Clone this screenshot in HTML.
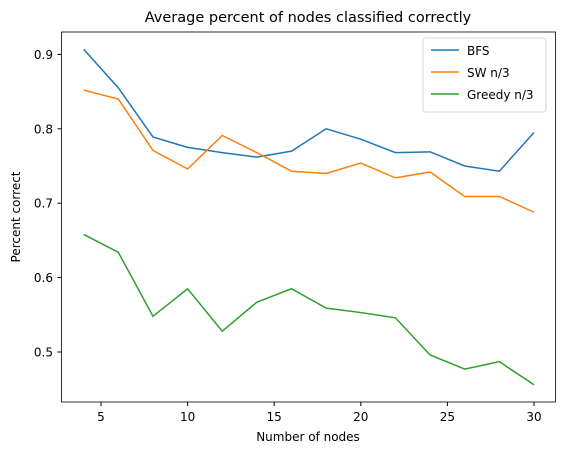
<!DOCTYPE html>
<html><head><meta charset="utf-8"><style>
body{margin:0;background:#fff;font-family:"Liberation Sans",sans-serif}
svg text{font-family:"DejaVu Sans","Liberation Sans",sans-serif;fill:#000}
</style></head><body>
<svg id="chart" width="567" height="455" xmlns="http://www.w3.org/2000/svg">
<rect width="567" height="455" fill="#fff"/>
<text x="308" y="22" text-anchor="middle" font-size="14.5">Average percent of nodes classified correctly</text>
<text x="308" y="441" text-anchor="middle" font-size="12">Number of nodes</text>
<text transform="translate(20,217) rotate(-90)" text-anchor="middle" font-size="12">Percent correct</text>
<g id="ticks"></g><g id="series"></g>
<rect x="61.5" y="32" width="494" height="370" fill="none" stroke="#000" stroke-width="0.8"/>
<g>
<rect x="423" y="38" width="123" height="74" rx="3" fill="#fff" stroke="#ccc" stroke-width="0.8"/>
<line x1="431" y1="50" x2="459" y2="50" stroke="#1f77b4" stroke-width="1.5"/>
<text x="467" y="55" font-size="12">BFS</text>
<line x1="431" y1="72" x2="459" y2="72" stroke="#ff7f0e" stroke-width="1.5"/>
<text x="467" y="77" font-size="12">SW n/3</text>
<line x1="431" y1="94" x2="459" y2="94" stroke="#2ca02c" stroke-width="1.5"/>
<text x="467" y="99" font-size="12">Greedy n/3</text>
</g>
</svg>
<script>
const nodes=[4,6,8,10,12,14,16,18,20,22,24,26,28,30];
const bfs=[0.907,0.855,0.789,0.775,0.768,0.762,0.770,0.800,0.786,0.768,0.769,0.750,0.743,0.795];
const sw=[0.852,0.840,0.771,0.746,0.791,0.768,0.743,0.740,0.754,0.734,0.742,0.709,0.709,0.688];
const greedy=[0.658,0.634,0.548,0.585,0.528,0.567,0.585,0.559,0.553,0.546,0.496,0.477,0.487,0.456];
const xTicks=[5,10,15,20,25,30];
const yTicks=[0.5,0.6,0.7,0.8,0.9];
const NS="http://www.w3.org/2000/svg";
function xs(v){return 101+(v-5)*17.32;}
function ys(v){return 352-(v-0.5)*744;}
const tg=document.getElementById('ticks');
xTicks.forEach(t=>{
 const l=document.createElementNS(NS,'line');
 l.setAttribute('x1',xs(t));l.setAttribute('x2',xs(t));l.setAttribute('y1',402);l.setAttribute('y2',406);l.setAttribute('stroke','#000');
 
 
 tg.appendChild(l);
 const tx=document.createElementNS(NS,'text');
 tx.setAttribute('x',xs(t));tx.setAttribute('y',421);tx.setAttribute('text-anchor','middle');tx.setAttribute('font-size','12');tx.textContent=t;
 
 
 tg.appendChild(tx);
});
yTicks.forEach(t=>{
 const l=document.createElementNS(NS,'line');
 l.setAttribute('x1',57.5);l.setAttribute('x2',61.5);l.setAttribute('y1',ys(t));l.setAttribute('y2',ys(t));l.setAttribute('stroke','#000');
 
 
 tg.appendChild(l);
 const tx=document.createElementNS(NS,'text');
 tx.setAttribute('x',53);tx.setAttribute('y',ys(t)+4.5);tx.setAttribute('text-anchor','end');tx.setAttribute('font-size','12');tx.textContent=t.toFixed(1);
 
 
 tg.appendChild(tx);
});
const sg=document.getElementById('series');
[[bfs,'#1f77b4','bfs-line'],[sw,'#ff7f0e','sw-line'],[greedy,'#2ca02c','greedy-line']].forEach(([d,c,n])=>{
 const p=document.createElementNS(NS,'polyline');
 p.setAttribute('points',d.map((v,i)=>xs(nodes[i])+','+ys(v)).join(' '));
 p.setAttribute('fill','none');p.setAttribute('stroke',c);p.setAttribute('stroke-width','1.5');
 
 
 sg.appendChild(p);
});
</script>
</body></html>
